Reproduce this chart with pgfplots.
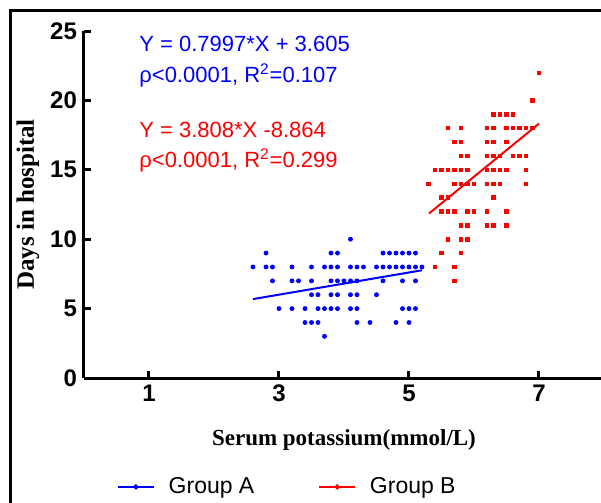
\documentclass[border=0pt]{standalone}
\usepackage{pgfplots}
\pgfplotsset{compat=1.18}
\usepackage{fontspec}
\setmainfont{Liberation Serif}
\newfontfamily\arial{Liberation Sans}
\pgfplotstableread{
x y
4.1 10
2.8 9
3.8 9
3.9 9
4.6 9
4.7 9
4.8 9
4.9 9
5.0 9
5.1 9
2.6 8
2.8 8
2.9 8
3.2 8
3.5 8
3.7 8
3.8 8
3.9 8
4.1 8
4.2 8
4.3 8
4.5 8
4.6 8
4.7 8
4.8 8
4.9 8
5.0 8
5.1 8
5.2 8
2.9 7
3.2 7
3.3 7
3.5 7
3.8 7
3.9 7
4.0 7
4.1 7
4.2 7
4.6 7
4.9 7
5.1 7
3.5 6
3.6 6
3.8 6
3.9 6
4.1 6
4.2 6
4.5 6
3.0 5
3.2 5
3.4 5
3.6 5
3.7 5
3.8 5
3.9 5
4.1 5
4.2 5
4.9 5
5.0 5
5.1 5
3.4 4
3.5 4
3.6 4
4.2 4
4.4 4
4.8 4
5.0 4
3.7 3
}\groupA
\pgfplotstableread{
x y
7.0 22
6.9 20
6.3 19
6.4 19
6.5 19
6.6 19
5.6 18
5.8 18
6.2 18
6.3 18
6.5 18
6.6 18
6.7 18
6.8 18
6.9 18
5.7 17
5.8 17
6.2 17
6.3 17
6.5 17
5.8 16
5.9 16
6.2 16
6.3 16
6.4 16
6.6 16
6.7 16
6.8 16
5.4 15
5.5 15
5.6 15
5.7 15
5.8 15
5.9 15
6.2 15
6.3 15
6.4 15
6.5 15
6.8 15
5.3 14
5.7 14
5.8 14
5.9 14
6.0 14
6.2 14
6.3 14
6.4 14
6.8 14
5.5 13
5.6 13
6.3 13
5.5 12
5.6 12
5.7 12
5.9 12
6.0 12
6.2 12
6.5 12
5.8 11
5.9 11
6.2 11
6.3 11
6.5 11
5.6 10
5.8 10
5.9 10
5.5 9
5.8 9
5.4 8
5.7 8
5.7 7
}\groupB
\begin{document}
\begin{tikzpicture}
\begin{axis}[
  at={(42pt,-189pt)}, anchor=south west,
  scale only axis, width=260pt, height=173.5pt,
  xmin=0, xmax=8, ymin=0, ymax=25,
  axis x line=bottom, axis y line=left,
  axis line style={-, line width=1.5pt},
  xtick={1,3,5,7}, ytick={0,5,10,15,20,25},
  tick align=inside,
  major tick length=3.5pt,
  every tick/.style={black, line width=1.5pt},
  /pgf/number format/assume math mode=true,
  ticklabel style={font=\arial\bfseries\fontsize{12}{14}\selectfont},
  xlabel={Serum potassium(mmol/L)},
  ylabel={Days in hospital},
  xlabel style={font=\bfseries\fontsize{11.5}{14}\selectfont, at={(axis description cs:0.5,-0.178)}, anchor=center},
  ylabel style={font=\bfseries\fontsize{12.5}{15}\selectfont, at={(axis description cs:-0.108,0.5)}, anchor=center},
  clip=false,
  legend columns=2,
  legend cell align=left,
  legend style={at={(axis description cs:0.393,-0.314)}, anchor=center, draw=none, fill=none,
    font=\arial\fontsize{11.5}{13}\selectfont,
    /tikz/every odd column/.append style={column sep=5pt},
    /tikz/every even column/.append style={column sep=30pt}},
  legend image code/.code={\draw[mark repeat=2,mark phase=2,#1] plot coordinates {(0pt,0pt) (9pt,0pt) (18pt,0pt)};},
]
\addplot[only marks, blue, mark=*, mark size=1.0pt, forget plot] table[x=x,y=y] {\groupA};
\addplot[only marks, red, mark=square*, mark size=0.85pt, forget plot] table[x=x,y=y] {\groupB};
\addplot[blue, line width=1pt, forget plot] coordinates {(2.6,5.684) (5.2,7.763)};
\addplot[red, line width=1pt, forget plot] coordinates {(5.31,11.86) (7.0,18.33)};
\addlegendimage{blue, line width=0.8pt, mark=*, mark size=0.9pt}
\addlegendentry{Group A}
\addlegendimage{red, line width=0.8pt, mark=*, mark size=0.9pt}
\addlegendentry{Group B}
\end{axis}
\begin{scope}[every node/.style={anchor=west, inner sep=0pt, font=\arial\fontsize{11}{13}\selectfont}]
\node[blue] at (69.5pt,-22pt) {Y = 0.7997*X + 3.605};
\node[blue] at (69.5pt,-37.5pt) {ρ<0.0001, R\textsuperscript{2}=0.107};
\node[red] at (69.5pt,-65pt) {Y = 3.808*X -8.864};
\node[red] at (69.5pt,-80pt) {ρ<0.0001, R\textsuperscript{2}=0.299};
\end{scope}
\draw[line width=1.5pt] (5pt,-260pt) -- (5pt,-5pt) -- (310pt,-5pt);
\pgfresetboundingbox
\useasboundingbox (0,0) rectangle (300.5pt,-251.5pt);
\end{tikzpicture}
\end{document}
